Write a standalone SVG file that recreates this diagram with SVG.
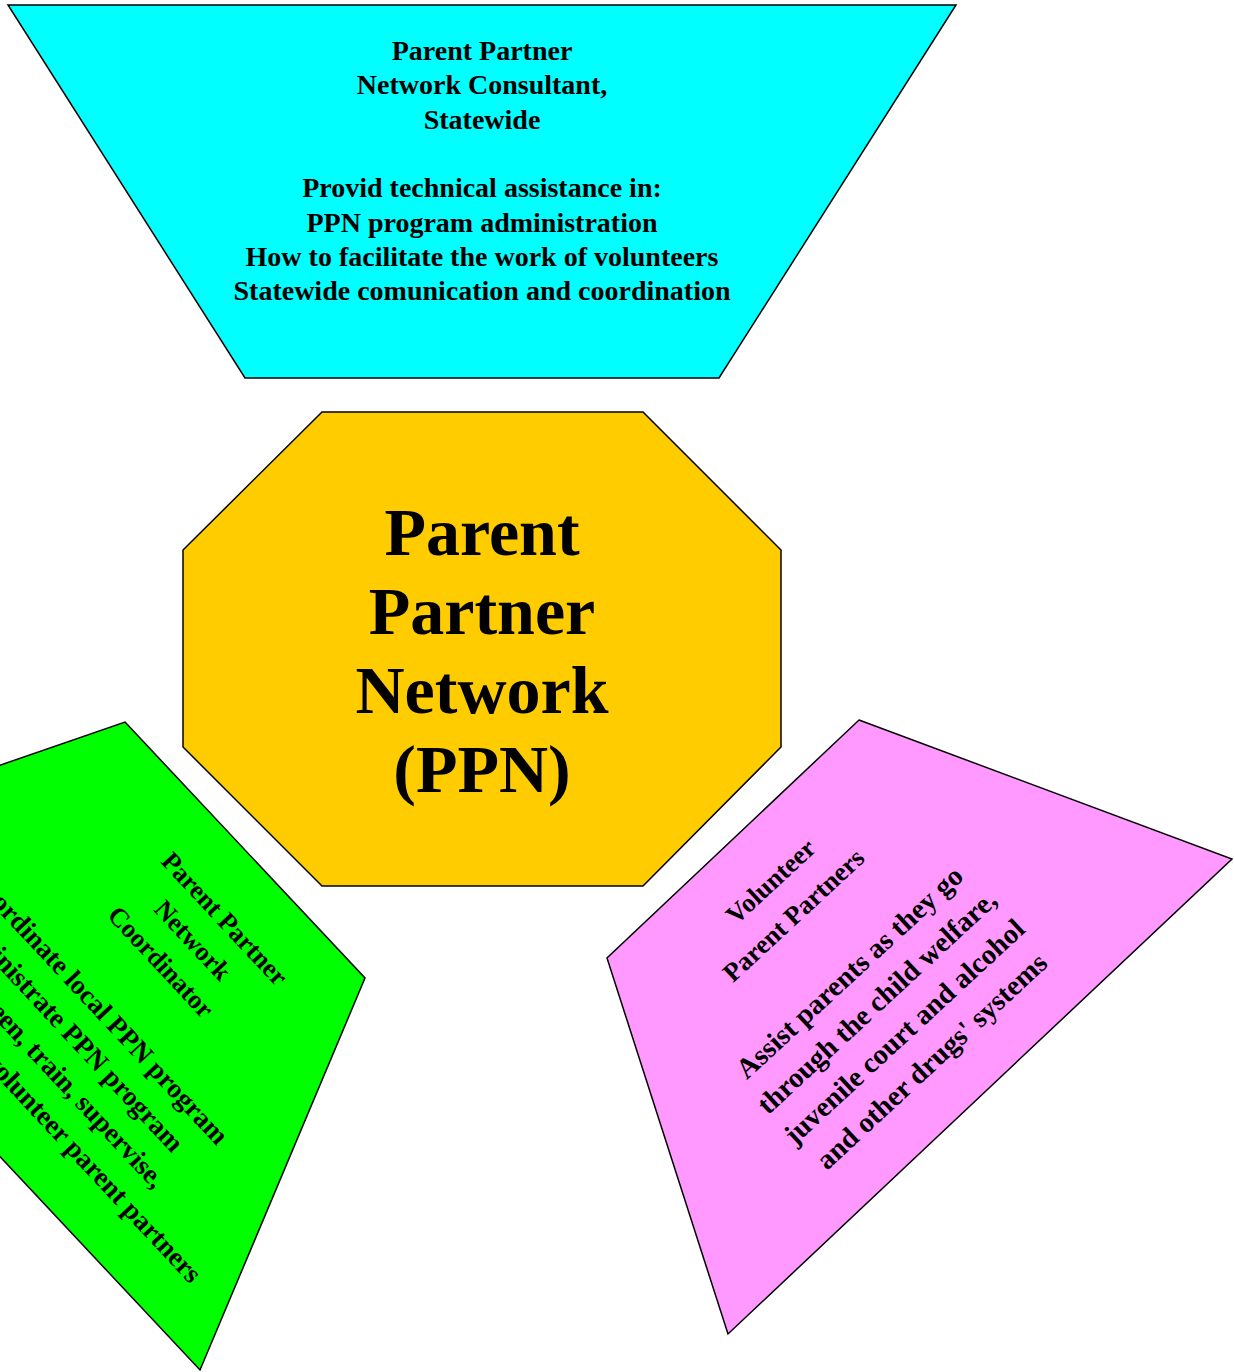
<svg xmlns="http://www.w3.org/2000/svg" width="1234" height="1372" viewBox="0 0 1234 1372">
<style>
.shape{stroke:#000;stroke-width:1.5;stroke-linejoin:miter}
.t{font-family:"Liberation Serif","Times New Roman",serif;font-weight:bold;fill:#000}
.m{text-anchor:middle}
.e{text-anchor:end}
.s28{font-size:28px}
.s26{font-size:26.5px}
.s275{font-size:27.5px}
.s285{font-size:28.5px}
.s68{font-size:68px}
</style>
<rect width="1234" height="1372" fill="#fff"/>
<g id="connectors"></g>
<g id="consultant">
<polygon class="shape" fill="#00FFFF" points="8,5 956,5 719,378 245,378"/>
<g class="t s28 m">
<text x="482" y="60">Parent Partner</text>
<text x="482" y="94.3">Network Consultant,</text>
<text x="482" y="128.6">Statewide</text>
<text x="482" y="197.2">Provid technical assistance in:</text>
<text x="482" y="231.5">PPN program administration</text>
<text x="482" y="265.8">How to facilitate the work of volunteers</text>
<text x="482" y="300.1">Statewide comunication and coordination</text>
</g>
</g>
<g id="ppn">
<polygon class="shape" fill="#FFCC00" points="322,412 643,412 781,550 781,747 643,886 322,886 183,747 183,550"/>
<g class="t s68 m">
<text x="482" y="554.5">Parent</text>
<text x="482" y="633.8">Partner</text>
<text x="482" y="713.1">Network</text>
<text x="482" y="792.4">(PPN)</text>
</g>
</g>
<g id="coordinator">
<polygon class="shape" fill="#00FF00" points="125,722 365,978 200,1370 -277,861"/>
<g class="t" transform="translate(200,950) rotate(47)">
<g class="s26 m">
<text x="-6" y="-30.5">Parent Partner</text>
<text x="-12" y="7.5">Network</text>
<text x="-18" y="45.5">Coordinator</text>
</g>
<g class="s275 e">
<text x="155" y="121.5">Coordinate local PPN program</text>
<text x="130" y="159.5">Administrate PPN program</text>
<text x="144" y="197.5">Screen, train, supervise,</text>
<text x="238" y="235.5">volunteer parent partners</text>
</g>
</g>
</g>
<g id="volunteers">
<polygon class="shape" fill="#FF99FF" points="859,720 1232,859 728,1334 607,958"/>
<g class="t m" transform="translate(800,1050) rotate(-42.8)">
<g class="s26">
<text x="93" y="-134.8">Volunteer</text>
<text x="87" y="-94.5">Parent Partners</text>
</g>
<g class="s285">
<text x="89" y="-13.9">Assist parents as they go</text>
<text x="89" y="26.4">through the child welfare,</text>
<text x="89" y="66.7">juvenile court and alcohol</text>
<text x="89" y="107">and other drugs' systems</text>
</g>
</g>
</g>
</svg>
